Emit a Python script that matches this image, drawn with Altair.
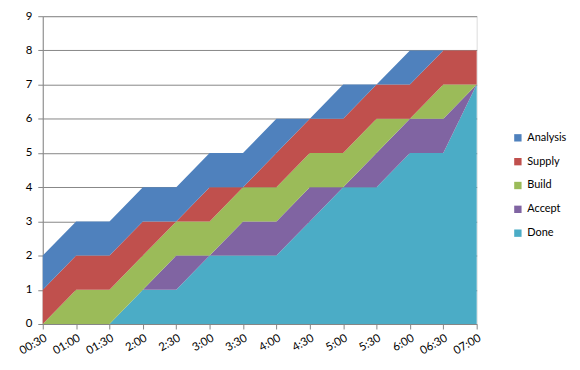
import altair as alt
import pandas as pd

times = ["00:30", "01:00", "01:30", "2:00", "2:30", "3:00", "3:30", "4:00",
         "4:30", "5:00", "5:30", "6:00", "06:30", "07:00"]
done = [0, 0, 0, 1, 1, 2, 2, 2, 3, 4, 4, 5, 5, 7]
accept = [0, 0, 0, 0, 1, 0, 1, 1, 1, 0, 1, 1, 1, 0]
build = [0, 1, 1, 1, 1, 1, 1, 1, 1, 1, 1, 0, 1, 0]
supply = [1, 1, 1, 1, 0, 1, 0, 1, 1, 1, 1, 1, 1, 1]
analysis = [1, 1, 1, 1, 1, 1, 1, 1, 0, 1, 0, 1, 0, 0]

series = ["Done", "Accept", "Build", "Supply", "Analysis"]
values = [done, accept, build, supply, analysis]
legend_order = ["Analysis", "Supply", "Build", "Accept", "Done"]
colors = ["#4F81BD", "#C0504D", "#9BBB59", "#8064A2", "#4BACC6"]

rows = []
for k, (name, vals) in enumerate(zip(series, values)):
    for t, v in zip(times, vals):
        rows.append({"time": t, "series": name, "value": v, "ord": k})
df = pd.DataFrame(rows)

font = "Lato"

chart = alt.Chart(df).mark_area(opacity=1).encode(
    x=alt.X("time:N", sort=times, title=None,
            scale=alt.Scale(type="point", padding=0),
            axis=alt.Axis(labelAngle=330, labelAlign="right", labelBaseline="top",
                          grid=False, tickColor="#868686", domainColor="#868686",
                          tickSize=5, labelColor="#000000", labelFontSize=11.5,
                          labelFont=font, labelPadding=3)),
    y=alt.Y("value:Q", stack="zero", title=None,
            scale=alt.Scale(domain=[0, 9], nice=False),
            axis=alt.Axis(values=list(range(10)), tickCount=10, grid=True,
                          gridColor="#868686", domainColor="#868686", tickColor="#868686",
                          tickSize=5, labelColor="#000000", labelFontSize=11.5,
                          labelFont=font, labelPadding=6)),
    color=alt.Color("series:N", scale=alt.Scale(domain=legend_order, range=colors),
                    legend=alt.Legend(title=None, symbolType="square", symbolSize=55,
                                      labelFont=font, labelFontSize=11, labelColor="#000000",
                                      rowPadding=12, orient="none", legendX=473, legendY=117,
                                      symbolStrokeWidth=0)),
    order=alt.Order("ord:Q"),
).properties(
    width=437, height=310,
    padding={"left": 9, "top": 1, "right": 5, "bottom": 5},
).configure_view(stroke=None).configure(background="white")

chart.save("out.html", embed_options={"renderer": "svg", "actions": False})
